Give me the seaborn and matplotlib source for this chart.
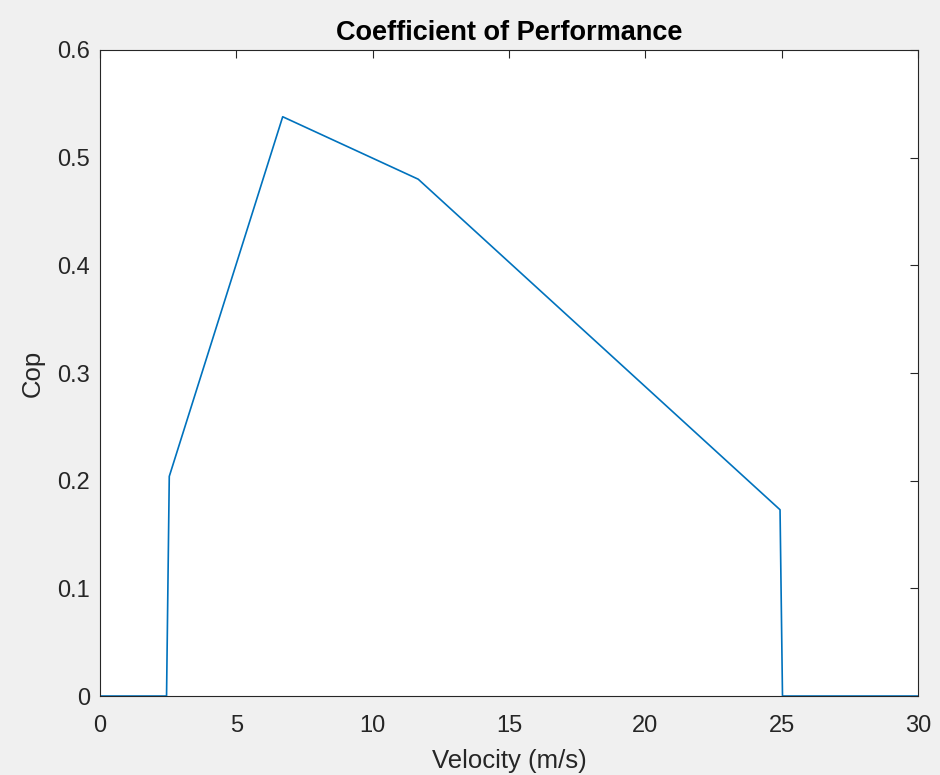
import numpy as np
import pandas as pd
import matplotlib
matplotlib.use("Agg")
import matplotlib.pyplot as plt
import seaborn as sns

sns.set_style("white")
plt.rcParams['font.family'] = ['Liberation Sans', 'DejaVu Sans']

# Values
velocity = [0, 2.44, 2.54, 6.70, 11.67, 24.94, 25.03, 30]
cop = [0, 0, 0.204, 0.538, 0.480, 0.173, 0, 0]

df = pd.DataFrame({'Velocity (m/s)': velocity, 'Cop': cop})

fig = plt.figure(figsize=(9.4, 7.75), dpi=100, facecolor='#f0f0f0')
ax = fig.add_axes([0.1064, 0.1019, 0.8702, 0.8336])
ax.set_facecolor('white')

sns.lineplot(data=df, x='Velocity (m/s)', y='Cop', color='#0072BD',
             linewidth=1.2, sort=False, ax=ax)

ax.set_xlim(0, 30)
ax.set_ylim(0, 0.6)
ax.set_xticks([0, 5, 10, 15, 20, 25, 30])
ax.set_yticks([0, 0.1, 0.2, 0.3, 0.4, 0.5, 0.6])
ax.set_yticklabels(['0', '0.1', '0.2', '0.3', '0.4', '0.5', '0.6'])

ax.tick_params(direction='in', length=6, width=0.8, top=True, right=True,
               labelsize=17, colors='#262626')
ax.tick_params(axis='x', pad=14)
ax.tick_params(axis='y', pad=7)
for sp in ax.spines.values():
    sp.set_visible(True)
    sp.set_color('#262626')
    sp.set_linewidth(0.8)

ax.set_xlabel('Velocity (m/s)', fontsize=18.5, color='#262626', labelpad=8)
ax.set_ylabel('Cop', fontsize=18.5, color='#262626', labelpad=9)
ax.set_title('Coefficient of Performance', fontsize=19.5, fontweight='bold',
             color='black', pad=7)

fig.savefig('out.png', dpi=100, facecolor=fig.get_facecolor())
